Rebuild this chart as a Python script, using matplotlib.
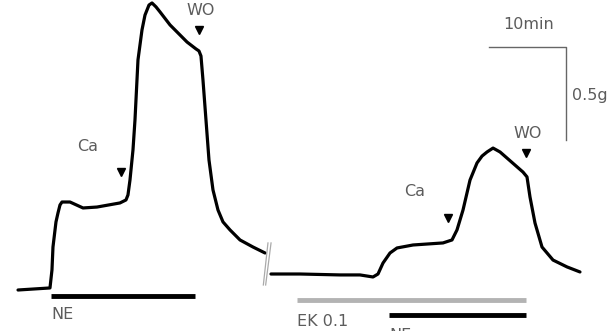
import matplotlib
matplotlib.use("Agg")
import matplotlib.pyplot as plt

# tension traces: time (min), tension (g)
left_t = [2.34, 6.49, 6.75, 6.88, 7.27, 7.53, 7.79, 8.05, 9.09, 10.78, 12.60, 15.58, 16.36,
          16.62, 16.88, 17.27, 17.53, 17.92, 18.44, 18.83, 19.35, 19.74, 20.26, 20.78, 22.08,
          24.29, 25.45, 25.84, 26.10, 26.36, 26.75, 27.14, 27.66, 28.31, 28.96, 29.87, 31.17,
          32.86, 34.42]
left_g = [0.000, 0.011, 0.108, 0.231, 0.366, 0.414, 0.457, 0.473, 0.473, 0.441, 0.446, 0.468,
          0.484, 0.511, 0.591, 0.753, 0.914, 1.237, 1.398, 1.478, 1.532, 1.543, 1.522, 1.495,
          1.425, 1.333, 1.296, 1.285, 1.258, 1.129, 0.914, 0.699, 0.538, 0.430, 0.366, 0.323,
          0.269, 0.231, 0.199]
right_t = [35.19, 38.96, 44.16, 46.75, 48.44, 49.09, 49.74, 50.65, 51.56, 53.64, 57.53, 58.70,
           59.35, 60.13, 61.04, 61.95, 62.60, 63.25, 64.03, 64.94, 67.92, 68.44, 68.83, 69.48,
           70.39, 71.82, 73.64, 75.32]
right_g = [0.086, 0.086, 0.081, 0.081, 0.070, 0.086, 0.145, 0.199, 0.226, 0.242, 0.253, 0.269,
           0.323, 0.430, 0.591, 0.683, 0.720, 0.742, 0.763, 0.742, 0.634, 0.608, 0.500, 0.360,
           0.231, 0.161, 0.124, 0.097]

# drug markers: (label, time, tension at arrow)
arrows = [("Ca", 15.7, 0.634), ("WO", 25.8, 1.40), ("Ca", 58.2, 0.387), ("WO", 68.3, 0.737)]

# application periods (start, end) in min
ne1 = (6.6, 25.3)
ek = (38.6, 68.3)
ne2 = (50.5, 68.3)

fig = plt.figure(figsize=(6.08, 3.31), dpi=100)
ax = fig.add_axes([0, 0, 1, 1])
ax.set_xlim(0, 78.96)
ax.set_ylim(-0.2204, 1.559)
ax.axis("off")

txt = dict(color="#5c5c5c", fontsize=11.5, family="DejaVu Sans")

for t, g in [(left_t, left_g), (right_t, right_g)]:
    ax.plot(t, g, color="black", lw=2.3, solid_capstyle="round", solid_joinstyle="round")

# axis break marks
ax.plot([34.2, 34.8], [0.027, 0.253], color="#aaaaaa", lw=0.9)
ax.plot([34.5, 35.2], [0.027, 0.253], color="#aaaaaa", lw=0.9)

for lab, t, g in arrows:
    ax.plot(t, g, marker="v", color="black", ms=6, ls="none")
    if lab == "Ca":
        ax.text(t - 4.3, g + 0.14, lab, ha="center", va="center", **txt)
    else:
        ax.text(t + 0.2, g + 0.105, lab, ha="center", va="center", **txt)

# bars
ax.plot(ne1, [-0.032, -0.032], color="black", lw=3.5, solid_capstyle="butt")
ax.plot(ek, [-0.054, -0.054], color="#b3b3b3", lw=3.5, solid_capstyle="butt")
ax.plot(ne2, [-0.134, -0.134], color="black", lw=3.5, solid_capstyle="butt")
ax.text(ne1[0] + 0.1, -0.134, "NE", ha="left", va="center", **txt)
ax.text(ek[0], -0.172, "EK 0.1", ha="left", va="center", **txt)
ax.text(ne2[0] + 0.1, -0.245, "NE", ha="left", va="center", **txt)

# scale bar: 10 min x 0.5 g
ax.plot([63.5, 73.5, 73.5], [1.306, 1.306, 0.806], color="#666666", lw=1.0)
ax.text(68.6, 1.425, "10min", ha="center", va="center", **txt)
ax.text(74.3, 1.048, "0.5g", ha="left", va="center", **txt)

fig.savefig("out.png", dpi=100)
